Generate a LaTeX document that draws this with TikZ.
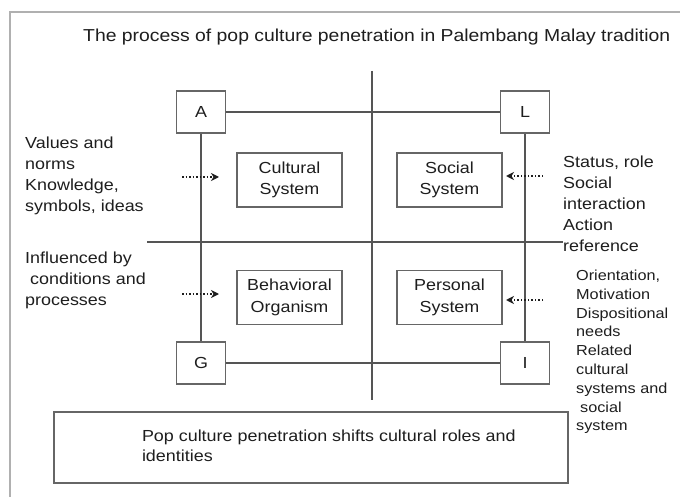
\documentclass[tikz,border=0pt]{standalone}
\usepackage{fontspec}
\setmainfont[FakeStretch=1.12]{Liberation Sans}
\usetikzlibrary{arrows.meta}
\definecolor{txt}{HTML}{1E1E1E}
\definecolor{linec}{HTML}{555555}
\definecolor{boxc}{HTML}{666666}
\definecolor{framec}{HTML}{B0B0B0}
\begin{document}
\begin{tikzpicture}[x=1pt,y=-1pt,
  every node/.style={text=txt},
  letterbox/.style={draw=boxc, line width=1.1pt, fill=white, minimum width=49pt, minimum height=42pt, inner sep=0pt, font=\fontsize{16}{21}\selectfont},
  sysbox/.style={draw=boxc, line width=1.1pt, fill=white, minimum width=105pt, minimum height=54pt, inner sep=0pt, align=center, font=\fontsize{16}{21.5}\selectfont},
  note/.style={anchor=west, align=left, inner sep=0pt, font=\fontsize{16}{21}\selectfont},
  smallnote/.style={anchor=west, align=left, inner sep=0pt, font=\fontsize{14.5}{18.8}\selectfont},
  axisline/.style={draw=linec, line width=1.2pt},
  feed/.style={draw=txt, dotted, line width=1.5pt, -{Stealth[length=8pt,width=8pt,inset=2.5pt]}},
  framec/.style={draw=framec, line width=2pt}]
\useasboundingbox (0,0) rectangle (680,497);
\fill[white] (0,0) rectangle (680,497);
% frame
\coordinate (fr1) at (680,12);
\coordinate (fr2) at (10,12);
\coordinate (fr3) at (10,497);
\draw[framec] (fr1) -- (fr2) -- (fr3);
% title
\node[anchor=west, inner sep=0pt, font=\fontsize{17.3}{21}\selectfont] (title) at (83,37) {The process of pop culture penetration in Palembang Malay tradition};
% axes
\coordinate (ctop) at (372,71);
\coordinate (cbot) at (372,400);
\coordinate (mleft) at (147,242);
\coordinate (mright) at (563,242);
\draw[axisline] (ctop) -- (cbot);
\draw[axisline] (mleft) -- (mright);
% corner boxes
\node[letterbox] (A) at (201,112) {A};
\node[letterbox] (L) at (525,112) {L};
\node[letterbox] (G) at (201,363) {G};
\node[letterbox] (I) at (525,363) {I};
\draw[axisline] (A) -- (L);
\draw[axisline] (G) -- (I);
\draw[axisline] (A) -- (G);
\draw[axisline] (L) -- (I);
% system boxes
\node[sysbox] (cult) at (289.5,180) {Cultural\\System};
\node[sysbox] (soc) at (449.5,180) {Social\\System};
\node[sysbox] (beh) at (289.5,297.5) {Behavioral\\Organism};
\node[sysbox] (pers) at (449.5,297.5) {Personal\\System};
% arrows
\coordinate (lt1) at (182,177);
\coordinate (lt2) at (219,177);
\coordinate (lb1) at (182,294);
\coordinate (lb2) at (219,294);
\coordinate (rt1) at (543,176);
\coordinate (rt2) at (506,176);
\coordinate (rb1) at (543,300);
\coordinate (rb2) at (506,300);
\draw[feed] (lt1) -- (lt2);
\draw[feed] (lb1) -- (lb2);
\draw[feed] (rt1) -- (rt2);
\draw[feed] (rb1) -- (rb2);
% side texts
\node[note] (ltxt) at (25,176) {Values and\\norms\\Knowledge,\\symbols, ideas};
\node[note] (lbtxt) at (25,280) {Influenced by\\\hspace*{5pt}conditions and\\processes};
\node[note] (rtxt) at (563,204) {Status, role\\Social\\interaction\\Action\\reference};
\node[smallnote] (rbtxt) at (576,352) {Orientation,\\Motivation\\Dispositional\\needs\\Related\\cultural\\systems and\\\hspace*{4pt}social\\system};
% bottom box
\node[draw=boxc, line width=1.1pt, fill=white, minimum height=71pt, inner sep=0pt, font=\fontsize{16}{20.5}\selectfont] (bottom) at (311,447.5)
  {\makebox[514pt][l]{\hspace*{88pt}\begin{tabular}{@{}l@{}}Pop culture penetration shifts cultural roles and\\identities\end{tabular}}};
\end{tikzpicture}
\end{document}
